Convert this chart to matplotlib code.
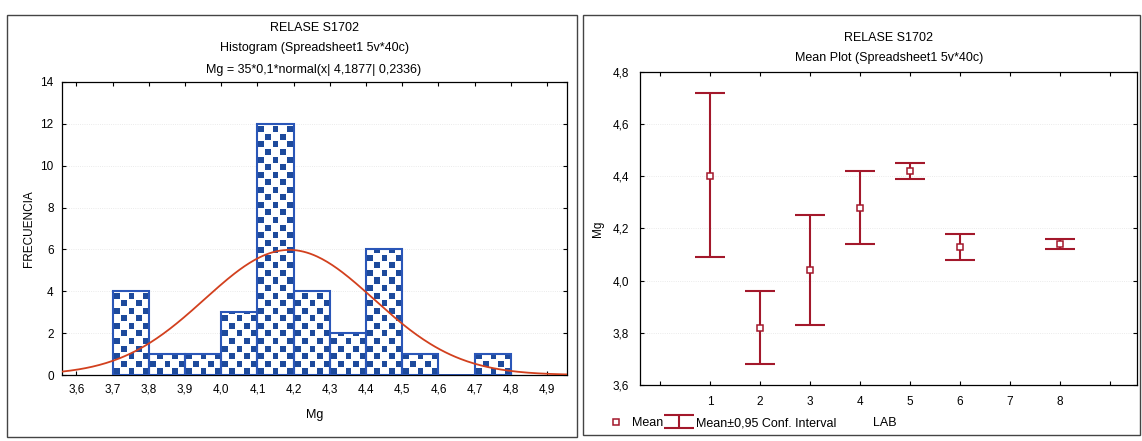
import numpy as np
import matplotlib
matplotlib.use('Agg')
import matplotlib.pyplot as plt
from matplotlib.patches import Rectangle

plt.rcParams['font.family'] = ['Liberation Sans', 'DejaVu Sans']

# histogram data (Mg, bins of 0.1)
bin_left = [3.7, 3.8, 3.9, 4.0, 4.1, 4.2, 4.3, 4.4, 4.5, 4.6, 4.7]
counts = [4, 1, 1, 3, 12, 4, 2, 6, 1, 0, 1]
n_obs = 35
bin_w = 0.1
fit_mean = 4.1877
fit_sd = 0.2336
hist_xticks = [3.6, 3.7, 3.8, 3.9, 4.0, 4.1, 4.2, 4.3, 4.4, 4.5, 4.6, 4.7, 4.8, 4.9]
hist_yticks = [0, 2, 4, 6, 8, 10, 12, 14]

# mean plot data
labs = [1, 2, 3, 4, 5, 6, 8]
means = [4.40, 3.82, 4.04, 4.28, 4.42, 4.13, 4.14]
ci_low = [4.09, 3.68, 3.83, 4.14, 4.39, 4.08, 4.12]
ci_high = [4.72, 3.96, 4.25, 4.42, 4.45, 4.18, 4.16]
mean_yticks = [3.6, 3.8, 4.0, 4.2, 4.4, 4.6, 4.8]
lab_ticks = [1, 2, 3, 4, 5, 6, 7, 8]

blue = '#1d4a9c'
red = '#a3182b'

def comma(v, nd=1):
    return f'{v:.{nd}f}'.replace('.', ',')

fig = plt.figure(figsize=(11.42, 4.41), dpi=100)

# panel borders
for x0, y0, x1, y1 in [(7, 15, 577, 437), (583, 15, 1140, 435)]:
    fig.add_artist(Rectangle((x0 / 1142, 1 - y1 / 441), (x1 - x0) / 1142, (y1 - y0) / 441,
                             transform=fig.transFigure, fill=False, ec='#444444', lw=1.0))

# ---------- histogram ----------
ax = fig.add_axes([62 / 1142, 1 - 375 / 441, 505 / 1142, 293 / 441])
xlim = (3.56, 4.955)
ylim = (0, 14)
ax.set_xlim(*xlim)
ax.set_ylim(*ylim)
ax.grid(axis='y', color='#e4e4e4', lw=0.6, ls=':')
ax.set_axisbelow(True)

bars = ax.bar(bin_left, counts, width=bin_w, align='edge', facecolor='white',
              edgecolor='#2a56b8', lw=1.4, zorder=2)

# checker pattern clipped to each bar
cx, cy = 0.02, 0.36
sub = 10
xs = np.arange(xlim[0], xlim[1], cx / sub) + cx / sub / 2
ys = np.arange(ylim[0], ylim[1], cy / sub) + cy / sub / 2
X, Y = np.meshgrid(xs, ys)
ix = np.floor((X - 3.7) / cx + 1e-6).astype(int)
iy = np.floor(Y / cy).astype(int)
fx = ((X - 3.7) / cx) % 1
fy = (Y / cy) % 1
on = ((ix + iy) % 2 == 0) & (fx > 0.1) & (fx < 0.9) & (fy > 0.1) & (fy < 0.9)
img = np.ones(X.shape + (3,))
img[on] = matplotlib.colors.to_rgb(blue)
for b in bars:
    if b.get_height() <= 0:
        continue
    im = ax.imshow(img, extent=(xs[0] - cx / sub / 2, xs[-1] + cx / sub / 2, 0, ys[-1] + cy / sub / 2),
                   origin='lower', aspect='auto', interpolation='nearest', zorder=2.5)
    im.set_clip_path(b)
for b in bars:
    if b.get_height() > 0:
        ax.add_patch(Rectangle(b.get_xy(), b.get_width(), b.get_height(), fill=False,
                               ec='#2a56b8', lw=1.5, zorder=3))

xc = np.linspace(xlim[0], xlim[1], 300)
yc = n_obs * bin_w * np.exp(-0.5 * ((xc - fit_mean) / fit_sd) ** 2) / (fit_sd * np.sqrt(2 * np.pi))
ax.plot(xc, yc, color='#d2401e', lw=1.3, zorder=4)

ax.set_xticks(hist_xticks)
ax.set_xticklabels([comma(v) for v in hist_xticks])
ax.set_yticks(hist_yticks)
ax.set_yticklabels([str(v) for v in hist_yticks])
ax.tick_params(direction='in', top=True, right=True, length=3, labelsize=8.5, pad=6)
ax.set_xlabel('Mg', fontsize=9, labelpad=10)
ax.set_ylabel('FRECUENCIA', fontsize=8.5, labelpad=4)
for s in ax.spines.values():
    s.set_linewidth(0.9)

fig.text(314 / 1142, 1 - 28 / 441, 'RELASE S1702', ha='center', va='center', fontsize=9)
fig.text(314 / 1142, 1 - 48 / 441, 'Histogram (Spreadsheet1 5v*40c)', ha='center', va='center', fontsize=9)
fig.text(314 / 1142, 1 - 70 / 441, 'Mg = 35*0,1*normal(x| 4,1877| 0,2336)', ha='center', va='center', fontsize=9)

# ---------- mean plot ----------
ax2 = fig.add_axes([640 / 1142, 1 - 385 / 441, 497 / 1142, 313 / 441])
ax2.set_xlim(-0.4, 9.55)
ax2.set_ylim(3.6, 4.8)
ax2.grid(axis='y', color='#e4e4e4', lw=0.6, ls=':')
ax2.set_axisbelow(True)

m = np.array(means)
lo = np.array(ci_low)
hi = np.array(ci_high)
eb = ax2.errorbar(labs, means, yerr=[m - lo, hi - m], fmt='none', ecolor=red,
                  elinewidth=1.5, capsize=10.5, capthick=1.5,
                  label='Mean\u00b10,95 Conf. Interval', zorder=2)
mk, = ax2.plot(labs, means, ls='none', marker='s', ms=4.5, mfc='white', mec=red,
               mew=1.1, label='Mean', zorder=3)

ax2.set_xticks([0] + lab_ticks + [9])
ax2.set_xticklabels([''] + [str(v) for v in lab_ticks] + [''])
ax2.set_yticks(mean_yticks)
ax2.set_yticklabels([comma(v) for v in mean_yticks])
ax2.tick_params(direction='in', top=True, right=True, length=3, labelsize=8.5, pad=8)
ax2.set_ylabel('Mg', fontsize=8.5, labelpad=6)
ax2.set_xlabel('LAB', fontsize=9)
ax2.xaxis.set_label_coords((885 - 640) / 497, (385 - 417) / 313)
for s in ax2.spines.values():
    s.set_linewidth(0.9)

fig.legend(handles=[mk, eb], labels=['Mean', 'Mean\u00b10,95 Conf. Interval'],
           loc='center left', bbox_to_anchor=(598 / 1142, 1 - 423 / 441), ncol=2,
           frameon=False, fontsize=9, handlelength=1.8, handletextpad=0.4,
           columnspacing=0.4, borderpad=0)

fig.text(889 / 1142, 1 - 38 / 441, 'RELASE S1702', ha='center', va='center', fontsize=9)
fig.text(889 / 1142, 1 - 58 / 441, 'Mean Plot (Spreadsheet1 5v*40c)', ha='center', va='center', fontsize=9)

fig.savefig('out.png', dpi=100)
